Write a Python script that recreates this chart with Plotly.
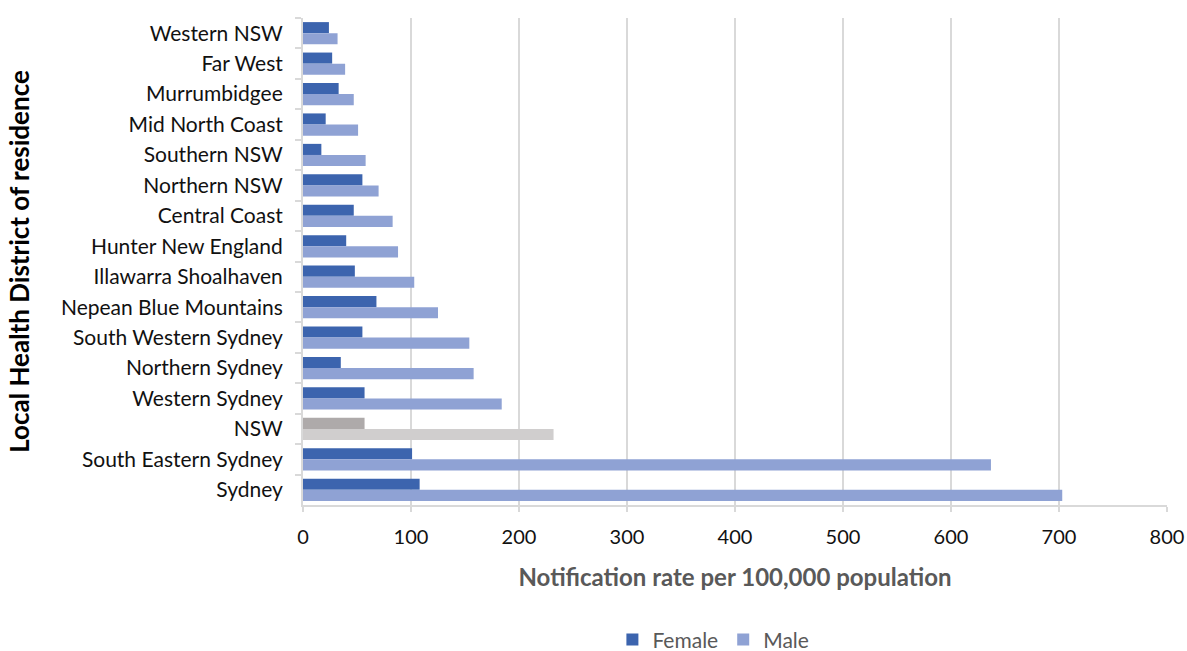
import plotly.graph_objects as go

# Local Health Districts, listed top to bottom as displayed
districts = [
    "Western NSW", "Far West", "Murrumbidgee", "Mid North Coast", "Southern NSW",
    "Northern NSW", "Central Coast", "Hunter New England", "Illawarra Shoalhaven",
    "Nepean Blue Mountains", "South Western Sydney", "Northern Sydney",
    "Western Sydney", "NSW", "South Eastern Sydney", "Sydney",
]
female_rate = [24, 27, 33, 21, 17, 55, 47, 40, 48, 68, 55, 35, 57, 57, 101, 108]
male_rate = [32, 39, 47, 51, 58, 70, 83, 88, 103, 125, 154, 158, 184, 232, 637, 703]

FEMALE_BLUE = "#3C64AE"
MALE_BLUE = "#8FA2D4"
NSW_FEMALE_GREY = "#AEAAAA"
NSW_MALE_GREY = "#D0CECE"

# The state-wide total is highlighted in grey
female_colors = [NSW_FEMALE_GREY if d == "NSW" else FEMALE_BLUE for d in districts]
male_colors = [NSW_MALE_GREY if d == "NSW" else MALE_BLUE for d in districts]

FONT = "Lato"
TEXT = "#111111"
GRID = "#D9D9D9"

fig = go.Figure()
fig.add_trace(go.Bar(
    name="Female", y=districts, x=female_rate, orientation="h",
    marker=dict(color=female_colors, line=dict(width=0)),
))
fig.add_trace(go.Bar(
    name="Male", y=districts, x=male_rate, orientation="h",
    marker=dict(color=male_colors, line=dict(width=0)),
))

fig.update_layout(
    width=1187, height=651,
    margin=dict(l=303, r=20, t=18, b=146, autoexpand=False),
    barmode="group", bargap=0.27, bargroupgap=0,
    plot_bgcolor="white", paper_bgcolor="white",
    font=dict(family=FONT, size=20, color=TEXT),
    legend=dict(orientation="h", x=0.475, xanchor="center", y=-0.277, yanchor="middle",
                font=dict(size=21, color="#595959"), traceorder="normal",
                itemwidth=30),
    showlegend=True,
)

fig.update_xaxes(
    range=[0, 800], dtick=100, showgrid=True, gridcolor=GRID, gridwidth=2,
    zeroline=False, showline=True, linecolor=GRID, linewidth=2,
    ticks="outside", ticklen=5, tickcolor=GRID, tickwidth=2,
    tickfont=dict(size=20, color=TEXT), ticklabelstandoff=8,
    automargin=False,
    title=dict(text="<b>Notification rate per 100,000 population</b>",
               font=dict(size=24, color="#595959"), standoff=22),
)
fig.update_yaxes(
    categoryorder="array", categoryarray=districts, autorange="reversed",
    showline=True, linecolor=GRID, linewidth=2,
    ticks="outside", tickson="boundaries", ticklen=6, tickcolor=GRID, tickwidth=2,
    tickfont=dict(size=21, color=TEXT), ticklabelstandoff=14,
    automargin=False,
    title=dict(text="<b>Local Health District of residence</b>",
               font=dict(size=26, color="#000000"), standoff=24),
)

fig.write_html("out.html")
